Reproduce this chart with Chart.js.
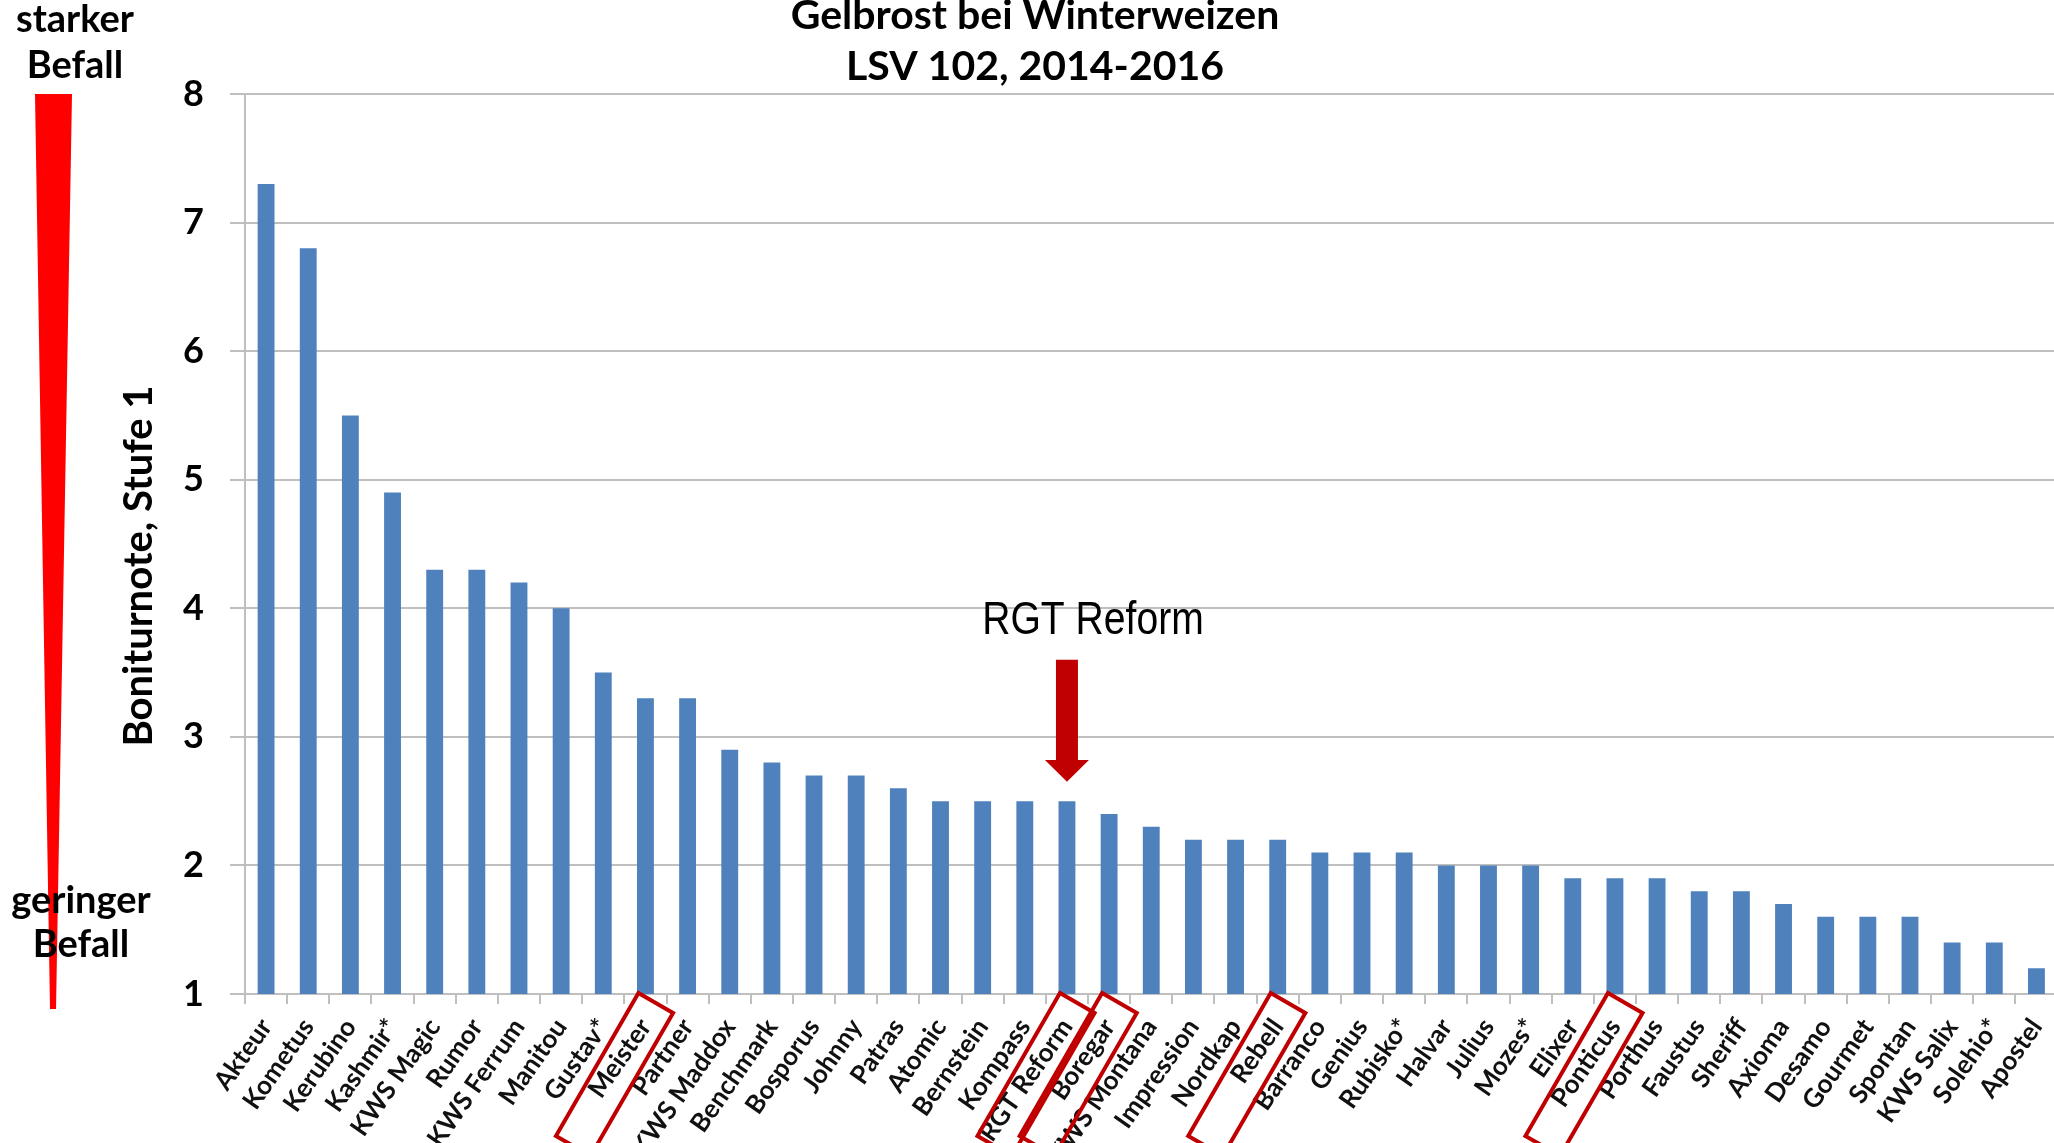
<!DOCTYPE html>
<html lang="de">
<head>
<meta charset="utf-8">
<title>Gelbrost bei Winterweizen</title>
<script src="https://cdn.jsdelivr.net/npm/chart.js@4.4.1/dist/chart.umd.min.js"></script>
<style>
  html, body { margin: 0; padding: 0; background: #fff; overflow: hidden; }
  #wrap { position: relative; width: 2071px; height: 1143px; }
</style>
</head>
<body>
<div id="wrap"><canvas id="grafico"></canvas></div>
<script>
// Sorten und Boniturnoten (Gelbrost, Stufe 1)
const sorten = [
  "Akteur", "Kometus", "Kerubino", "Kashmir*", "KWS Magic", "Rumor", "KWS Ferrum",
  "Manitou", "Gustav*", "Meister", "Partner", "KWS Maddox", "Benchmark", "Bosporus",
  "Johnny", "Patras", "Atomic", "Bernstein", "Kompass", "RGT Reform", "Boregar",
  "KWS Montana", "Impression", "Nordkap", "Rebell", "Barranco", "Genius", "Rubisko*",
  "Halvar", "Julius", "Mozes*", "Elixer", "Ponticus", "Porthus", "Faustus", "Sheriff",
  "Axioma", "Desamo", "Gourmet", "Spontan", "KWS Salix", "Solehio*", "Apostel"
];
const boniturnote = [
  7.3, 6.8, 5.5, 4.9, 4.3, 4.3, 4.2,
  4.0, 3.5, 3.3, 3.3, 2.9, 2.8, 2.7,
  2.7, 2.6, 2.5, 2.5, 2.5, 2.5, 2.4,
  2.3, 2.2, 2.2, 2.2, 2.1, 2.1, 2.1,
  2.0, 2.0, 2.0, 1.9, 1.9, 1.9, 1.8, 1.8,
  1.7, 1.6, 1.6, 1.6, 1.4, 1.4, 1.2
];
const yTicks = [1, 2, 3, 4, 5, 6, 7, 8];
const markiert = ["Meister", "RGT Reform", "Boregar", "Rebell", "Ponticus"];
const titelZeilen = ["Gelbrost bei Winterweizen", "LSV 102, 2014-2016"];
const yTitel = "Boniturnote, Stufe 1";
const pfeilSorte = "RGT Reform";

const ROT = 55;

// Zeichnet Titel, Befall-Keil links, Markierungen und Hinweis
const dekoPlugin = {
  id: "deko",
  afterDraw(chart) {
    const { ctx } = chart;
    const x = chart.scales.x;
    const y = chart.scales.y;
    ctx.save();

    // Titel
    ctx.fillStyle = "#000";
    ctx.font = "bold 41px Lato";
    ctx.textAlign = "center";
    ctx.textBaseline = "middle";
    ctx.fillText(titelZeilen[0], 1035, 16);
    ctx.fillText(titelZeilen[1], 1035, 67);

    // Achsentitel
    ctx.save();
    ctx.font = "bold 40px Lato";
    ctx.translate(139, 566);
    ctx.rotate(-Math.PI / 2);
    ctx.fillText(yTitel, 0, 0);
    ctx.restore();

    // roter Keil links
    const top = y.getPixelForValue(8);
    ctx.fillStyle = "#FF0000";
    ctx.beginPath();
    ctx.moveTo(35, top);
    ctx.lineTo(72, top);
    ctx.lineTo(56, 1009);
    ctx.lineTo(50, 1009);
    ctx.closePath();
    ctx.fill();

    ctx.fillStyle = "#000";
    ctx.font = "bold 38px Lato";
    ctx.fillText("starker", 75, 20);
    ctx.fillText("Befall", 75, 66);
    ctx.fillText("geringer", 81, 901);
    ctx.fillText("Befall", 81, 945);

    // Rahmen um markierte Sorten
    ctx.strokeStyle = "#C00000";
    ctx.lineWidth = 4;
    markiert.forEach((name) => {
      const i = sorten.indexOf(name);
      ctx.save();
      ctx.translate(x.getPixelForValue(i) - 7, x.top - 1);
      ctx.rotate(Math.PI / 6);
      ctx.strokeRect(0, 0, 40, 165);
      ctx.restore();
    });

    // Pfeil auf RGT Reform
    const ax = x.getPixelForValue(sorten.indexOf(pfeilSorte));
    const tip = y.getPixelForValue(2.65);
    const headTop = y.getPixelForValue(2.82);
    const shaftTop = y.getPixelForValue(3.6);
    ctx.fillStyle = "#C00000";
    ctx.beginPath();
    ctx.moveTo(ax - 11, shaftTop);
    ctx.lineTo(ax + 11, shaftTop);
    ctx.lineTo(ax + 11, headTop);
    ctx.lineTo(ax + 22, headTop);
    ctx.lineTo(ax, tip);
    ctx.lineTo(ax - 22, headTop);
    ctx.lineTo(ax - 11, headTop);
    ctx.closePath();
    ctx.fill();

    ctx.fillStyle = "#000";
    ctx.font = "46px 'Liberation Sans'";
    ctx.translate(ax + 26, y.getPixelForValue(3.9));
    ctx.scale(0.85, 1);
    ctx.fillText(pfeilSorte, 0, 0);

    ctx.restore();
  }
};

const ctx = document.getElementById("grafico").getContext("2d");
new Chart(ctx, {
  type: "bar",
  data: {
    labels: sorten,
    datasets: [{
      data: boniturnote,
      backgroundColor: "#4F81BD",
      barPercentage: 0.4,
      categoryPercentage: 1.0
    }]
  },
  options: {
    responsive: true,
    maintainAspectRatio: false,
    animation: false,
    layout: { padding: { left: 114, top: 94, right: 0, bottom: 0 } },
    plugins: {
      legend: { display: false },
      tooltip: { enabled: false }
    },
    scales: {
      x: {
        grid: {
          drawOnChartArea: false,
          tickLength: 10,
          color: "#BFBFBF",
          lineWidth: 2,
          offset: true
        },
        border: { color: "#BFBFBF", width: 2 },
        ticks: {
          autoSkip: false,
          minRotation: ROT,
          maxRotation: ROT,
          padding: 9,
          color: "#111",
          font: { family: "Lato", size: 26, weight: "bold", lineHeight: 1.2 }
        },
        afterFit: (scale) => { scale.height = 149; }
      },
      y: {
        min: 1,
        max: 8,
        afterBuildTicks: (scale) => { scale.ticks = yTicks.map((v) => ({ value: v })); },
        grid: { color: "#BFBFBF", lineWidth: 2, tickLength: 15 },
        border: { color: "#BFBFBF", width: 2 },
        ticks: {
          padding: 26,
          color: "#000",
          font: { family: "Lato", size: 36, weight: "bold" }
        },
        afterFit: (scale) => { scale.width = 131; }
      }
    }
  },
  plugins: [dekoPlugin]
});
</script>
</body>
</html>
